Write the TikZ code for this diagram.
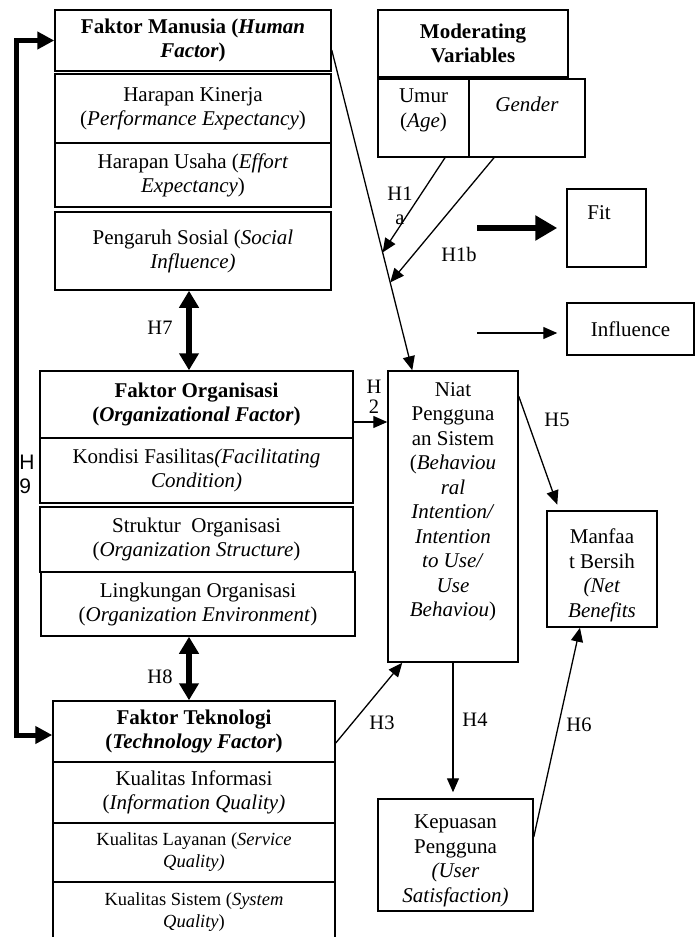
\documentclass[tikz,border=0pt]{standalone}
\usepackage{fontspec}
\setmainfont{Liberation Serif}
\newfontfamily\arialfont{Liberation Sans}
\usetikzlibrary{arrows.meta}
\usetikzlibrary{calc}

\begin{document}
\begin{tikzpicture}[x=1pt,y=-1pt,
box/.style={draw,line width=1.5pt,inner sep=0pt,align=center,font=\fontsize{21}{24}\selectfont},
txt/.style={inner sep=0pt,align=center,font=\fontsize{21}{24.5}\selectfont},
small/.style={font=\fontsize{18.5}{22}\selectfont},
lbl/.style={inner sep=0pt,align=center,font=\fontsize{20.5}{24}\selectfont},
thin/.style={line width=1.3pt,-{Triangle[length=14pt,width=12pt]}},
dbl/.style={line width=6pt,{Triangle[length=17pt,width=19pt]}-{Triangle[length=17pt,width=19pt]}},
fat/.style={line width=6.5pt,-{Triangle[length=22pt,width=24pt]}}]
\useasboundingbox (0,0) rectangle (700,937);
%\draw[help lines] (0,0) grid[step=50] (700,937);

% human factor
\node[box,minimum width=276,minimum height=61] (hum) at (193,40.5) {\textbf{Faktor Manusia (\textit{Human}}\\\textbf{\textit{Factor})}};
\node[box,minimum width=276,minimum height=69] (pe) at (193,108.5) {Harapan Kinerja\\(\textit{Performance Expectancy})};
\node[box,minimum width=276,minimum height=64] (ee) at (193,175) {Harapan Usaha (\textit{Effort}\\\textit{Expectancy})};
\node[box,minimum width=276,minimum height=78] (si) at (193,251) {Pengaruh Sosial (\textit{Social}\\\textit{Influence)}};

% organizational factor
\node[box,minimum width=313,minimum height=67] (org) at (196.5,404.5) {\textbf{Faktor Organisasi}\\\textbf{(\textit{Organizational Factor})}};
\node[box,minimum width=313,minimum height=65] (fc) at (196.5,470.5) {Kondisi Fasilitas\textit{(Facilitating}\\\textit{Condition)}};
\node[box,minimum width=313,minimum height=65] (os) at (196.5,539.5) {Struktur\ \ Organisasi\\(\textit{Organization Structure})};
\node[box,minimum width=314,minimum height=64] (oe) at (198,604) {Lingkungan Organisasi\\(\textit{Organization Environment})};

% technology factor
\node[box,minimum width=282,minimum height=61] (tek) at (194,731.5) {\textbf{Faktor Teknologi}\\\textbf{(\textit{Technology Factor})}};
\node[box,minimum width=282,minimum height=61] (iq) at (194,792.5) {Kualitas Informasi\\(\textit{Information Quality)}};
\node[box,small,minimum width=282,minimum height=59] (sq) at (194,852.5) {Kualitas Layanan (\textit{Service}\\\textit{Quality)}};
\node[box,small,minimum width=282,minimum height=60] (sy) at (194,912) {Kualitas Sistem (\textit{System}\\\textit{Quality})};

% moderating variables
\node[box,minimum width=190,minimum height=67] (mod) at (473,43.5) {\textbf{Moderating}\\\textbf{Variables}};
\node[box,minimum width=91,minimum height=78] (age) at (423.5,118) {};
\node[txt,anchor=north] (agetxt) at (423.5,89) {Umur\\(\textit{Age})};
\node[box,minimum width=116,minimum height=78] (gen) at (527,118) {};
\node[txt,anchor=north] (gentxt) at (527,97) {\textit{Gender}};

% legend
\node[box,minimum width=79,minimum height=78] (fit) at (606.5,228) {};
\node[txt,anchor=north] (fittxt) at (599,205) {Fit};
\node[box,minimum width=127,minimum height=52] (inf) at (630.5,329) {Influence};

% outcomes
\node[box,minimum width=130,minimum height=291] (bi) at (453,516.5) {};
\node[txt,anchor=north] (bitxt) at (453,382) {Niat\\Pengguna\\an Sistem\\(\textit{Behaviou}\\\textit{ral}\\\textit{Intention/}\\\textit{Intention}\\\textit{to Use/}\\\textit{Use}\\\textit{Behaviou})};
\node[box,minimum width=110,minimum height=116] (nb) at (602,569) {};
\node[txt,anchor=north] (nbtxt) at (602,529) {Manfaa\\t Bersih\\\textit{(Net}\\\textit{Benefits}};
\node[box,minimum width=155,minimum height=112] (us) at (455.5,855) {};
\node[txt,anchor=north] (ustxt) at (455.5,815) {Kepuasan\\Pengguna\\\textit{(User}\\\textit{Satisfaction)}};

% connectors
\coordinate (h9top) at (16,40.5);
\coordinate (h9bot) at (16,735);
\draw[line width=5pt,line join=miter,{Triangle[length=17pt,width=17pt]}-{Triangle[length=17pt,width=17pt]}] (hum.west) -- (h9top) -- (h9bot) -- (tek.west |- h9bot);
\node[inner sep=0pt,align=left,font=\arialfont\fontsize{21}{24}\selectfont] (h9) at (27,474) {H\\9};

\draw[dbl] ([xshift=-4pt]si.south) -- ([xshift=-4pt]si.south |- org.north);
\node[lbl] (h7) at (160,328) {H7};
\draw[dbl] ([xshift=-9pt]oe.south) -- ([xshift=-9pt]oe.south |- tek.north);
\node[lbl] (h8) at (160,677) {H8};

\draw[thin] ([yshift=-9.5pt]hum.east) -- coordinate[pos=0.632] (ha) coordinate[pos=0.726] (hb) ([xshift=25pt]bi.north west);
\draw[thin] ([xshift=21.5pt]age.south) -- (ha);
\node[lbl] (h1a) at (400,206) {H1\\a};
\draw[thin] ([xshift=-33pt]gen.south) -- (hb);
\node[lbl] (h1b) at (459,254) {H1b};

\coordinate (h2s) at ([yshift=-17.5pt]org.east);
\draw[thin] (h2s) -- (bi.west |- h2s);
\node[lbl,font=\fontsize{20.5}{20}\selectfont] (h2) at (374,397) {H\\2};
\draw[thin] ([yshift=-11.5pt]tek.east) -- ([xshift=15pt]bi.south west);
\node[lbl] (h3) at (382,723) {H3};
\draw[thin,shorten >=6pt] (bi.south) -- (bi.south |- us.north);
\node[lbl] (h4) at (475,720) {H4};
\draw[thin,shorten >=6pt] ([yshift=-26pt]bi.north east) -- ([xshift=13pt]nb.north west);
\node[lbl] (h5) at (557,420) {H5};
\draw[thin] ([yshift=18pt]us.east) -- ([xshift=-22pt]nb.south);
\node[lbl] (h6) at (579,725) {H6};

\draw[fat] ([xshift=-89pt]fit.west) -- ([xshift=-9pt]fit.west);
\draw[thin] ([xshift=-89pt,yshift=-4pt]inf.west) -- ([xshift=-9pt,yshift=-4pt]inf.west);
\end{tikzpicture}
\end{document}
